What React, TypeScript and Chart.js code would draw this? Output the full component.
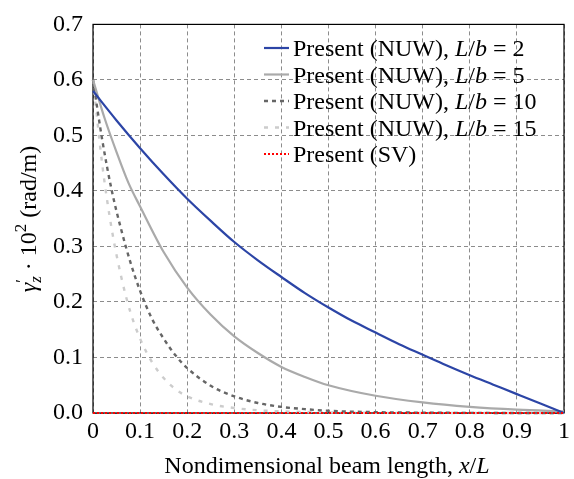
import React, { useEffect, useRef } from 'react';
import { Chart, registerables } from 'chart.js';

Chart.register(...registerables);

// ---- Data ----
const xLb2 = [0, 0.05, 0.1, 0.15, 0.2, 0.25, 0.3, 0.35, 0.4, 0.45, 0.5, 0.55, 0.6, 0.65, 0.7, 0.75, 0.8, 0.85, 0.9, 0.95, 1.0];
const yLb2 = [0.58, 0.527, 0.477, 0.43, 0.386, 0.346, 0.308, 0.275, 0.245, 0.216, 0.19, 0.166, 0.145, 0.124, 0.105, 0.086, 0.068, 0.051, 0.034, 0.017, 0.0];

const xLb5 = [0, 0.025, 0.05, 0.075, 0.1, 0.15, 0.2, 0.25, 0.3, 0.35, 0.4, 0.45, 0.5, 0.6, 0.7, 0.8, 0.9, 1.0];
const yLb5 = [0.6, 0.53, 0.47, 0.415, 0.372, 0.29, 0.226, 0.177, 0.138, 0.108, 0.083, 0.065, 0.05, 0.031, 0.019, 0.011, 0.006, 0.003];

const xLb10 = [0, 0.02, 0.04, 0.06, 0.08, 0.1, 0.125, 0.15, 0.175, 0.2, 0.25, 0.3, 0.35, 0.4, 0.45, 0.5, 0.6, 0.7, 0.8, 0.9, 1.0];
const yLb10 = [0.6, 0.49, 0.4, 0.33, 0.27, 0.22, 0.17, 0.134, 0.104, 0.081, 0.049, 0.03, 0.018, 0.011, 0.007, 0.004, 0.0015, 0.0006, 0.0002, 0.0001, 0];

const xLb15 = [0, 0.02, 0.04, 0.06, 0.08, 0.1, 0.125, 0.15, 0.175, 0.2, 0.25, 0.3, 0.35, 0.4, 0.5, 0.6, 0.8, 1.0];
const yLb15 = [0.6, 0.445, 0.33, 0.245, 0.18, 0.134, 0.092, 0.063, 0.043, 0.03, 0.016, 0.009, 0.005, 0.003, 0.001, 0.0003, 0, 0];

const xSV = [0, 0.25, 0.5, 0.75, 1.0];
const ySV = [0, 0, 0, 0, 0];

const lbValues = ['2', '5', '10', '15'];

const FONT = '"Liberation Serif"';
const FS = 24;

type Part = { t: string; it?: boolean; sz?: number; dy?: number; noAdvance?: boolean };

function partsWidth(ctx: CanvasRenderingContext2D, parts: Part[]) {
  let w = 0;
  for (const p of parts) {
    ctx.font = `${p.it ? 'italic ' : ''}${p.sz ?? FS}px ${FONT}`;
    if (!p.noAdvance) w += ctx.measureText(p.t).width;
  }
  return w;
}

function drawParts(ctx: CanvasRenderingContext2D, parts: Part[], x: number, y: number) {
  let cx = x;
  for (const p of parts) {
    ctx.font = `${p.it ? 'italic ' : ''}${p.sz ?? FS}px ${FONT}`;
    ctx.fillText(p.t, cx, y + (p.dy ?? 0));
    if (!p.noAdvance) cx += ctx.measureText(p.t).width;
  }
}

const pts = (xs: number[], ys: number[]) => xs.map((x, i) => ({ x, y: ys[i] }));

const styles = [
  { color: '#2c45a6', width: 2.2, dash: [] as number[] },
  { color: '#aaaaaa', width: 2.2, dash: [] as number[] },
  { color: '#666666', width: 2.4, dash: [4, 4] },
  { color: '#cccccc', width: 2.4, dash: [4, 7] },
  { color: '#ff0000', width: 2, dash: [2, 2] },
];

const overlay = {
  id: 'overlay',
  beforeDatasetsDraw(chart: any) {
    const { ctx, chartArea: a } = chart;
    ctx.save();
    ctx.strokeStyle = '#000';
    ctx.lineWidth = 1.2;
    ctx.setLineDash([]);
    ctx.strokeRect(a.left, a.top, a.right - a.left, a.bottom - a.top);
    ctx.restore();
  },
  afterDraw(chart: any) {
    const { ctx } = chart;
    ctx.save();
    ctx.fillStyle = '#000';
    ctx.textBaseline = 'alphabetic';
    ctx.textAlign = 'left';

    // Legend
    const rowY = [48, 74.5, 101, 127.5, 154];
    const labels: Part[][] = lbValues.map((v) => [
      { t: 'Present (NUW), ' },
      { t: 'L', it: true },
      { t: '/' },
      { t: 'b', it: true },
      { t: ' = ' },
      { t: v },
    ]);
    labels.push([{ t: 'Present (SV)' }]);
    labels.forEach((parts, i) => {
      const s = styles[i];
      const y = rowY[i];
      ctx.save();
      ctx.strokeStyle = s.color;
      ctx.lineWidth = s.width;
      ctx.setLineDash(s.dash);
      ctx.beginPath();
      ctx.moveTo(264, y);
      ctx.lineTo(289, y);
      ctx.stroke();
      ctx.restore();
      ctx.fillStyle = '#000';
      drawParts(ctx, parts, 293, y + 8);
    });

    // X title
    const xt: Part[] = [
      { t: 'Nondimensional beam length, ' },
      { t: 'x', it: true },
      { t: '/' },
      { t: 'L', it: true },
    ];
    const xw = partsWidth(ctx, xt);
    drawParts(ctx, xt, 327 - xw / 2, 473);

    // Y title (rotated)
    const yt: Part[] = [
      { t: 'γ', it: true },
      { t: '′', sz: 17, dy: -9, noAdvance: true },
      { t: 'z', it: true, sz: 17, dy: 5 },
      { t: ' · 10' },
      { t: '2', sz: 17, dy: -10 },
      { t: ' (rad/m)' },
    ];
    const yw = partsWidth(ctx, yt);
    ctx.translate(28, 219);
    ctx.rotate(-Math.PI / 2);
    drawParts(ctx, yt, -yw / 2, 8);
    ctx.restore();
  },
};

export default function App() {
  const ref = useRef<HTMLCanvasElement | null>(null);
  useEffect(() => {
    let chart: any = null;
    let cancelled = false;
    const build = () => {
      if (cancelled || !ref.current) return;
      const series = [
        pts(xLb2, yLb2),
        pts(xLb5, yLb5),
        pts(xLb10, yLb10),
        pts(xLb15, yLb15),
        pts(xSV, ySV),
      ];
      chart = new Chart(ref.current, {
        type: 'line',
        data: {
          datasets: series.map((d, i) => ({
            data: d,
            borderColor: styles[i].color,
            borderWidth: styles[i].width,
            borderDash: styles[i].dash,
            pointRadius: 0,
            fill: false,
            cubicInterpolationMode: 'monotone' as const,
            clip: 6,
            order: i === 4 ? 0 : 1,
          })),
        },
        options: {
          animation: false,
          responsive: false,
          devicePixelRatio: 1,
          layout: { padding: { left: 0, top: 19, right: 10, bottom: 0 } },
          plugins: { legend: { display: false }, tooltip: { enabled: false } },
          scales: {
            x: {
              type: 'linear',
              min: 0,
              max: 1,
              afterFit: (s: any) => { s.height = 66; },
              ticks: {
                stepSize: 0.1,
                padding: 4,
                color: '#000',
                font: { family: FONT, size: FS },
                maxRotation: 0,
                callback: (v: any) => {
                  const r = Math.round(Number(v) * 10) / 10;
                  return r === 0 ? '0' : r === 1 ? '1' : r.toFixed(1);
                },
              },
              grid: { color: '#8c8c8c', lineWidth: 1, drawTicks: false },
              border: { display: false, dash: [4, 3] },
            },
            y: {
              type: 'linear',
              min: 0,
              max: 0.7,
              afterFit: (s: any) => { s.width = 93; },
              ticks: {
                stepSize: 0.1,
                padding: 10,
                color: '#000',
                font: { family: FONT, size: FS },
                callback: (v: any) => (Math.round(Number(v) * 10) / 10).toFixed(1),
              },
              grid: { color: '#8c8c8c', lineWidth: 1, drawTicks: false },
              border: { display: false, dash: [4, 3] },
            },
          },
        },
        plugins: [overlay],
      } as any);
    };
    const fonts: any = (document as any).fonts;
    if (fonts && fonts.load) {
      Promise.all([
        fonts.load(`${FS}px ${FONT}`, 'Present 0.1'),
        fonts.load(`italic ${FS}px ${FONT}`, 'xLbγz'),
      ]).then(build, build);
    } else {
      build();
    }
    return () => {
      cancelled = true;
      if (chart) chart.destroy();
    };
  }, []);
  return (
    <div style={{ position: 'absolute', left: 0, top: 0, width: 574, height: 479, background: '#fff' }}>
      <span style={{ fontFamily: 'Liberation Serif', position: 'absolute', visibility: 'hidden' }}>
        Present <i>x</i>
      </span>
      <canvas ref={ref} width={574} height={479} style={{ display: 'block', width: 574, height: 479 }} />
    </div>
  );
}
